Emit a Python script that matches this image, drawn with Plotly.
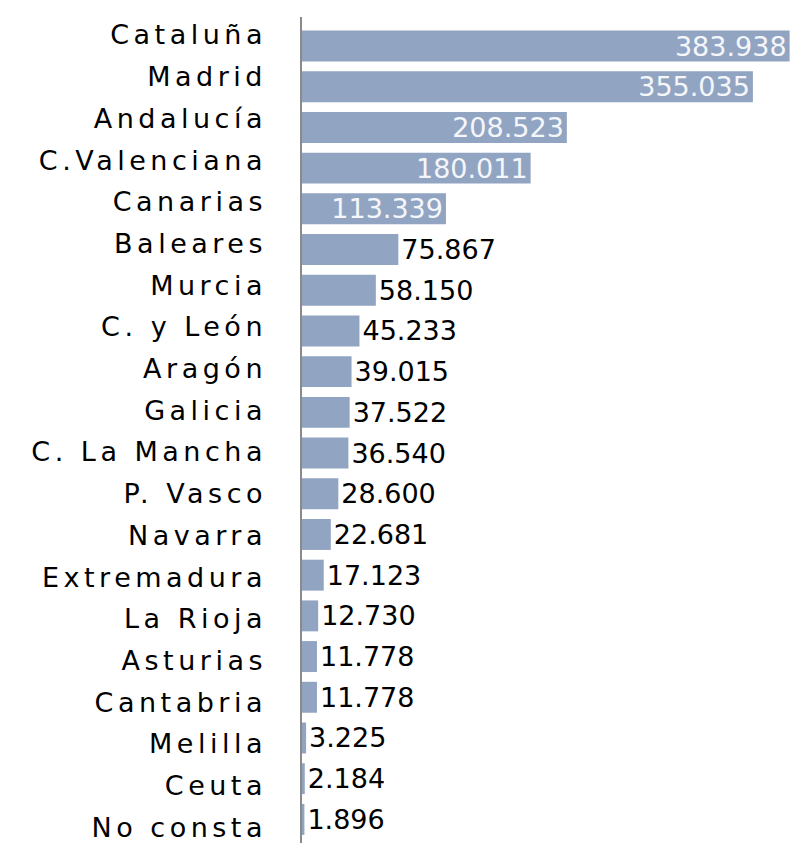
import plotly.graph_objects as go

regions = ["Cataluña", "Madrid", "Andalucía", "C.Valenciana", "Canarias", "Baleares",
           "Murcia", "C. y León", "Aragón", "Galicia", "C. La Mancha", "P. Vasco",
           "Navarra", "Extremadura", "La Rioja", "Asturias", "Cantabria", "Melilla",
           "Ceuta", "No consta"]
values = [383938, 355035, 208523, 180011, 113339, 75867, 58150, 45233, 39015, 37522,
          36540, 28600, 22681, 17123, 12730, 11778, 11778, 3225, 2184, 1896]
positions = ["inside"] * 5 + ["outside"] * 15

BAR = "#91a4c2"
FONT = "DejaVu Sans"

fig = go.Figure()
fig.add_trace(go.Bar(
    x=values, y=regions, orientation="h",
    marker=dict(color=BAR, line=dict(width=0)),
    texttemplate="%{x:,}", textposition=positions,
    insidetextanchor="end",
    insidetextfont=dict(family=FONT, size=27, color="#f4f6fa"),
    outsidetextfont=dict(family=FONT, size=27, color="#000000"),
    constraintext="none", cliponaxis=False,
    hoverinfo="skip", showlegend=False,
))
# invisible trace carrying the category labels on a separate axis
fig.add_trace(go.Scatter(
    x=values, y=regions, yaxis="y2", mode="none",
    hoverinfo="skip", showlegend=False,
))

fig.update_layout(
    width=790, height=843,
    margin=dict(l=302, r=0, t=17, b=0),
    paper_bgcolor="white", plot_bgcolor="white",
    separators=",.",
    bargap=0.24,
    xaxis=dict(range=[0, 384250], visible=False, fixedrange=True),
    yaxis=dict(type="category", range=[19.58, -0.7125], showticklabels=False,
               showgrid=False, zeroline=False, showline=True,
               linecolor="#8a8a8a", linewidth=2, ticks=""),
    yaxis2=dict(type="category", overlaying="y", side="left", anchor="x",
                range=[19.376, -0.4317], showgrid=False, zeroline=False,
                showline=False, ticks="", ticklabelstandoff=34,
                tickfont=dict(family=FONT, size=27, color="#000000")),
)

post = """
document.body.style.margin = '0';
document.body.style.overflow = 'hidden';
document.querySelectorAll('.y2tick text').forEach(function(t){
  t.style.letterSpacing = '4.5px';
});
"""
fig.write_html("out.html", post_script=post, config={"displayModeBar": False})
